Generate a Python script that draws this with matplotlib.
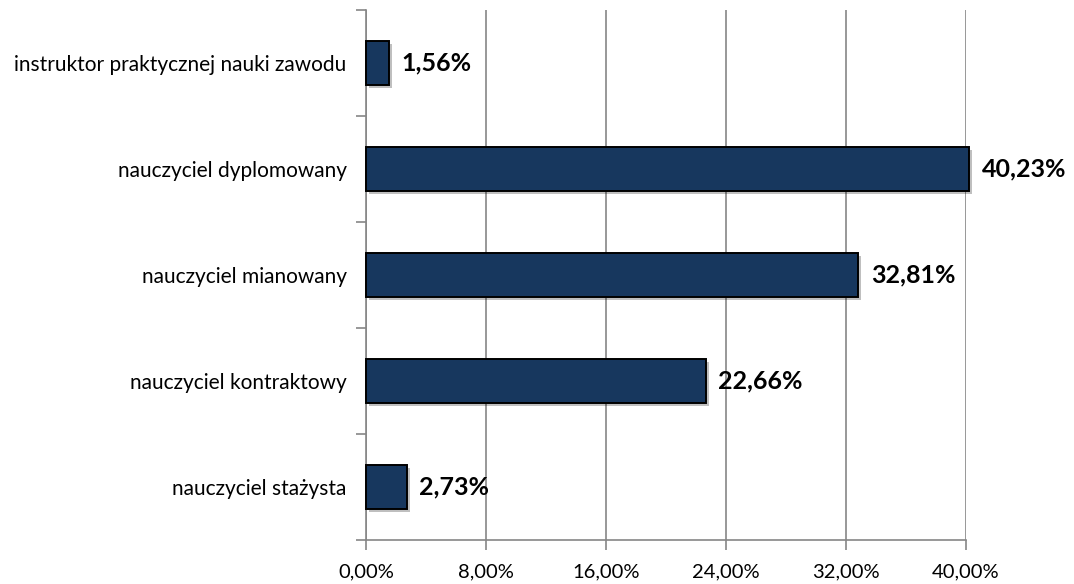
import matplotlib.pyplot as plt
import matplotlib.patheffects as pe
from matplotlib.ticker import FixedLocator, FuncFormatter

plt.rcParams['font.family'] = ['Lato', 'DejaVu Sans']

# categories listed bottom to top
categories = ['nauczyciel stażysta', 'nauczyciel kontraktowy', 'nauczyciel mianowany',
              'nauczyciel dyplomowany', 'instruktor praktycznej nauki zawodu']
shares = [2.73, 22.66, 32.81, 40.23, 1.56]
x_ticks = [0, 8, 16, 24, 32, 40]

bar_color = '#17375E'
axis_gray = '#868686'

fig = plt.figure(figsize=(10.74, 5.84), dpi=100)
ax = fig.add_axes([366 / 1074, 44 / 584, 600 / 1074, 530 / 584])

pos = list(range(len(categories)))
bars = ax.barh(pos, shares, height=0.41, color=bar_color, edgecolor='black',
               linewidth=1.4, zorder=3, clip_on=False)
for b in bars:
    b.set_path_effects([pe.SimplePatchShadow(offset=(2, -2), shadow_rgbFace='#000000', alpha=0.25),
                        pe.Normal()])

for p, v in zip(pos, shares):
    ax.annotate(f'{v:.2f}%'.replace('.', ','), xy=(v, p), xytext=(9, 0),
                textcoords='offset points', va='center', ha='left',
                fontsize=18, fontweight='bold', color='black',
                annotation_clip=False)

ax.set_xlim(0, 40)
ax.set_ylim(-0.5, len(categories) - 0.5)

ax.xaxis.set_major_locator(FixedLocator(x_ticks))
ax.xaxis.set_major_formatter(FuncFormatter(lambda x, _: f'{x:.2f}%'.replace('.', ',')))
ax.set_yticks(pos)
ax.set_yticklabels(categories)
ax.set_yticks([p - 0.5 for p in pos] + [len(pos) - 0.5], minor=True)

ax.grid(axis='x', color=axis_gray, linewidth=1.2, zorder=0)
ax.set_axisbelow(True)

for s in ['top', 'right']:
    ax.spines[s].set_visible(False)
for s in ['left', 'bottom']:
    ax.spines[s].set_color(axis_gray)
    ax.spines[s].set_linewidth(1.2)

ax.tick_params(axis='y', which='major', length=0, pad=14, labelsize=15)
ax.tick_params(axis='y', which='minor', length=7, width=1.2, color=axis_gray)
ax.tick_params(axis='x', length=7, width=1.2, color=axis_gray, pad=10, labelsize=14.5)

fig.savefig('out.png', dpi=100)
